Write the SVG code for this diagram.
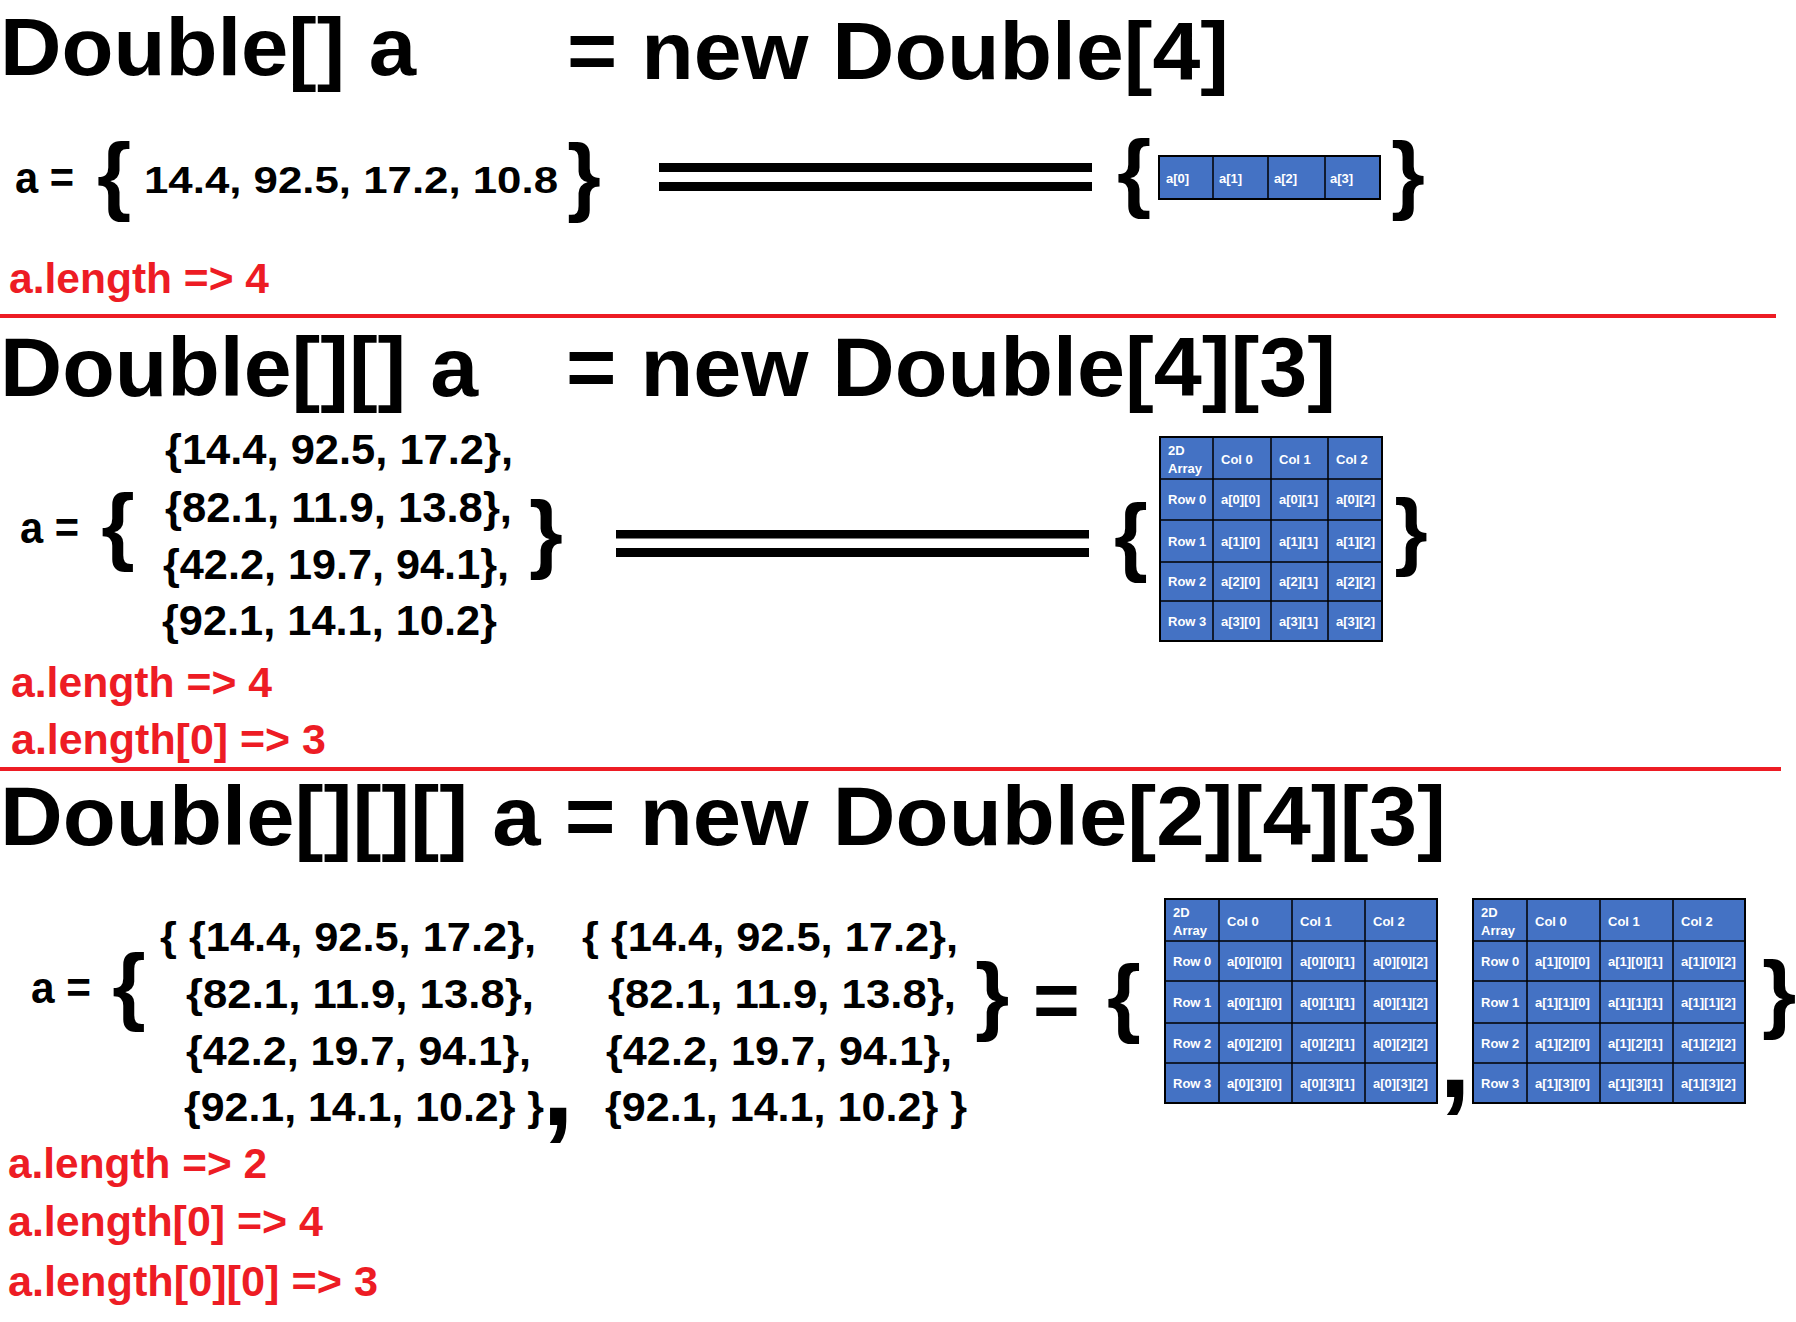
<svg xmlns="http://www.w3.org/2000/svg" width="1796" height="1322" viewBox="0 0 1796 1322">
<style>
text{font-family:"Liberation Sans",Arial,sans-serif;font-weight:bold}
.title{font-size:84px;fill:#000}
.num{fill:#000}
.red{font-size:43px;fill:#ED1C24}
.br{fill:#000;text-anchor:middle}
.tb{font-size:13px;fill:#fff}
.cell{fill:#4472C4;stroke:#000;stroke-width:2}
.div{stroke:#000;stroke-width:1.5}
</style>
<rect x="0" y="0" width="1796" height="1322" fill="#fff"/>

<!-- Section 1 -->
<g id="title1">
<text class="title" x="0" y="75" font-size="82" style="font-size:82px" textLength="416" lengthAdjust="spacingAndGlyphs">Double[] a</text>
<text class="title" x="567" y="79" style="font-size:82px" textLength="662" lengthAdjust="spacingAndGlyphs">= new Double[4]</text>
</g>
<g id="literal1">
<text class="num" x="15" y="193" font-size="44" textLength="59" lengthAdjust="spacingAndGlyphs">a =</text>
<text class="br" x="114" y="204" font-size="88">{</text>
<text class="num" x="144" y="193" font-size="37" textLength="414" lengthAdjust="spacingAndGlyphs">14.4, 92.5, 17.2, 10.8</text>
<text class="br" x="584" y="204.5" font-size="87">}</text>
</g>
<g id="array1d">
<text class="br" x="1134" y="201" font-size="88">{</text>
<rect class="cell" x="1159" y="156" width="221" height="43"/>
<line class="div" x1="1213" y1="156" x2="1213" y2="199"/>
<line class="div" x1="1268" y1="156" x2="1268" y2="199"/>
<line class="div" x1="1325" y1="156" x2="1325" y2="199"/>
<text class="tb" x="1166" y="183">a[0]</text>
<text class="tb" x="1219" y="183">a[1]</text>
<text class="tb" x="1274" y="183">a[2]</text>
<text class="tb" x="1330" y="183">a[3]</text>
<text class="br" x="1408" y="202.5" font-size="87">}</text>
</g>
<g id="length1">
<text class="red" x="9" y="293" textLength="260" lengthAdjust="spacingAndGlyphs">a.length =&gt; 4</text>
</g>
<rect x="0" y="314" width="1776" height="4" fill="#ED1C24"/>

<!-- Section 2 -->
<g id="title2">
<text class="title" x="0" y="396" textLength="478" lengthAdjust="spacingAndGlyphs">Double[][] a</text>
<text class="title" x="566" y="396" textLength="770" lengthAdjust="spacingAndGlyphs">= new Double[4][3]</text>
</g>
<g id="literal2">
<text class="num" x="20" y="543" font-size="44" textLength="59" lengthAdjust="spacingAndGlyphs">a =</text>
<text class="br" x="118" y="554" font-size="86">{</text>
<text class="num" x="165" y="464" font-size="42" textLength="348" lengthAdjust="spacingAndGlyphs">{14.4, 92.5, 17.2},</text>
<text class="num" x="165" y="522" font-size="42" textLength="347" lengthAdjust="spacingAndGlyphs">{82.1, 11.9, 13.8},</text>
<text class="num" x="163" y="579" font-size="42" textLength="346" lengthAdjust="spacingAndGlyphs">{42.2, 19.7, 94.1},</text>
<text class="num" x="162" y="635" font-size="42" textLength="335" lengthAdjust="spacingAndGlyphs">{92.1, 14.1, 10.2}</text>
<text class="br" x="546" y="561.5" font-size="87">}</text>
</g>
<g id="array2d">
<text class="br" x="1131" y="564.5" font-size="87">{</text>
<rect class="cell" x="1160" y="437" width="222" height="204"/>
<line class="div" x1="1213" y1="437" x2="1213" y2="641"/>
<line class="div" x1="1271" y1="437" x2="1271" y2="641"/>
<line class="div" x1="1328" y1="437" x2="1328" y2="641"/>
<line class="div" x1="1160" y1="479" x2="1382" y2="479"/>
<line class="div" x1="1160" y1="520" x2="1382" y2="520"/>
<line class="div" x1="1160" y1="562" x2="1382" y2="562"/>
<line class="div" x1="1160" y1="601" x2="1382" y2="601"/>
<text class="tb" x="1168" y="455">2D</text>
<text class="tb" x="1168" y="473">Array</text>
<text class="tb" x="1221" y="464">Col 0</text>
<text class="tb" x="1279" y="464">Col 1</text>
<text class="tb" x="1336" y="464">Col 2</text>
<text class="tb" x="1168" y="504">Row 0</text>
<text class="tb" x="1221" y="504">a[0][0]</text>
<text class="tb" x="1279" y="504">a[0][1]</text>
<text class="tb" x="1336" y="504">a[0][2]</text>
<text class="tb" x="1168" y="546">Row 1</text>
<text class="tb" x="1221" y="546">a[1][0]</text>
<text class="tb" x="1279" y="546">a[1][1]</text>
<text class="tb" x="1336" y="546">a[1][2]</text>
<text class="tb" x="1168" y="586">Row 2</text>
<text class="tb" x="1221" y="586">a[2][0]</text>
<text class="tb" x="1279" y="586">a[2][1]</text>
<text class="tb" x="1336" y="586">a[2][2]</text>
<text class="tb" x="1168" y="626">Row 3</text>
<text class="tb" x="1221" y="626">a[3][0]</text>
<text class="tb" x="1279" y="626">a[3][1]</text>
<text class="tb" x="1336" y="626">a[3][2]</text>
<text class="br" x="1411" y="558.7" font-size="86">}</text>
</g>
<g id="length2">
<text class="red" x="11" y="697" textLength="261" lengthAdjust="spacingAndGlyphs">a.length =&gt; 4</text>
<text class="red" x="11" y="754" textLength="315" lengthAdjust="spacingAndGlyphs">a.length[0] =&gt; 3</text>
</g>
<rect x="0" y="767" width="1781" height="4" fill="#ED1C24"/>

<!-- Section 3 -->
<g id="title3">
<text class="title" x="0" y="845" textLength="1446" lengthAdjust="spacingAndGlyphs">Double[][][] a = new Double[2][4][3]</text>
</g>
<g id="literal3">
<text class="num" x="31" y="1003" font-size="44" textLength="60" lengthAdjust="spacingAndGlyphs">a =</text>
<text class="br" x="129" y="1013.7" font-size="86">{</text>
<text class="num" x="160" y="951" font-size="40" textLength="376" lengthAdjust="spacingAndGlyphs">{ {14.4, 92.5, 17.2},</text>
<text class="num" x="186" y="1008" font-size="40" textLength="348" lengthAdjust="spacingAndGlyphs">{82.1, 11.9, 13.8},</text>
<text class="num" x="186" y="1065" font-size="40" textLength="345" lengthAdjust="spacingAndGlyphs">{42.2, 19.7, 94.1},</text>
<text class="num" x="184" y="1121" font-size="40" textLength="360" lengthAdjust="spacingAndGlyphs">{92.1, 14.1, 10.2} }</text>
<text class="num" x="542" y="1125" font-size="115">,</text>
<text class="num" x="582" y="951" font-size="40" textLength="376" lengthAdjust="spacingAndGlyphs">{ {14.4, 92.5, 17.2},</text>
<text class="num" x="608" y="1008" font-size="40" textLength="348" lengthAdjust="spacingAndGlyphs">{82.1, 11.9, 13.8},</text>
<text class="num" x="606" y="1065" font-size="40" textLength="346" lengthAdjust="spacingAndGlyphs">{42.2, 19.7, 94.1},</text>
<text class="num" x="605" y="1121" font-size="40" textLength="362" lengthAdjust="spacingAndGlyphs">{92.1, 14.1, 10.2} }</text>
<text class="br" x="992" y="1024" font-size="88">}</text>
<text class="num" x="1033" y="1027" font-size="80">=</text>
</g>
<g id="array3d-0">
<text class="br" x="1124" y="1025.5" font-size="87">{</text>
<rect class="cell" x="1165" y="899" width="272" height="204"/>
<line class="div" x1="1219" y1="899" x2="1219" y2="1103"/>
<line class="div" x1="1292" y1="899" x2="1292" y2="1103"/>
<line class="div" x1="1365" y1="899" x2="1365" y2="1103"/>
<line class="div" x1="1165" y1="941" x2="1437" y2="941"/>
<line class="div" x1="1165" y1="981" x2="1437" y2="981"/>
<line class="div" x1="1165" y1="1023" x2="1437" y2="1023"/>
<line class="div" x1="1165" y1="1063" x2="1437" y2="1063"/>
<text class="tb" x="1173" y="917">2D</text>
<text class="tb" x="1173" y="935">Array</text>
<text class="tb" x="1227" y="926">Col 0</text>
<text class="tb" x="1300" y="926">Col 1</text>
<text class="tb" x="1373" y="926">Col 2</text>
<text class="tb" x="1173" y="966">Row 0</text>
<text class="tb" x="1227" y="966">a[0][0][0]</text>
<text class="tb" x="1300" y="966">a[0][0][1]</text>
<text class="tb" x="1373" y="966">a[0][0][2]</text>
<text class="tb" x="1173" y="1007">Row 1</text>
<text class="tb" x="1227" y="1007">a[0][1][0]</text>
<text class="tb" x="1300" y="1007">a[0][1][1]</text>
<text class="tb" x="1373" y="1007">a[0][1][2]</text>
<text class="tb" x="1173" y="1048">Row 2</text>
<text class="tb" x="1227" y="1048">a[0][2][0]</text>
<text class="tb" x="1300" y="1048">a[0][2][1]</text>
<text class="tb" x="1373" y="1048">a[0][2][2]</text>
<text class="tb" x="1173" y="1088">Row 3</text>
<text class="tb" x="1227" y="1088">a[0][3][0]</text>
<text class="tb" x="1300" y="1088">a[0][3][1]</text>
<text class="tb" x="1373" y="1088">a[0][3][2]</text>
</g>
<g id="comma3d">
<text class="num" x="1439" y="1097" font-size="115">,</text>
</g>
<g id="array3d-1">
<rect class="cell" x="1473" y="899" width="272" height="204"/>
<line class="div" x1="1527" y1="899" x2="1527" y2="1103"/>
<line class="div" x1="1600" y1="899" x2="1600" y2="1103"/>
<line class="div" x1="1673" y1="899" x2="1673" y2="1103"/>
<line class="div" x1="1473" y1="941" x2="1745" y2="941"/>
<line class="div" x1="1473" y1="981" x2="1745" y2="981"/>
<line class="div" x1="1473" y1="1023" x2="1745" y2="1023"/>
<line class="div" x1="1473" y1="1063" x2="1745" y2="1063"/>
<text class="tb" x="1481" y="917">2D</text>
<text class="tb" x="1481" y="935">Array</text>
<text class="tb" x="1535" y="926">Col 0</text>
<text class="tb" x="1608" y="926">Col 1</text>
<text class="tb" x="1681" y="926">Col 2</text>
<text class="tb" x="1481" y="966">Row 0</text>
<text class="tb" x="1535" y="966">a[1][0][0]</text>
<text class="tb" x="1608" y="966">a[1][0][1]</text>
<text class="tb" x="1681" y="966">a[1][0][2]</text>
<text class="tb" x="1481" y="1007">Row 1</text>
<text class="tb" x="1535" y="1007">a[1][1][0]</text>
<text class="tb" x="1608" y="1007">a[1][1][1]</text>
<text class="tb" x="1681" y="1007">a[1][1][2]</text>
<text class="tb" x="1481" y="1048">Row 2</text>
<text class="tb" x="1535" y="1048">a[1][2][0]</text>
<text class="tb" x="1608" y="1048">a[1][2][1]</text>
<text class="tb" x="1681" y="1048">a[1][2][2]</text>
<text class="tb" x="1481" y="1088">Row 3</text>
<text class="tb" x="1535" y="1088">a[1][3][0]</text>
<text class="tb" x="1608" y="1088">a[1][3][1]</text>
<text class="tb" x="1681" y="1088">a[1][3][2]</text>
<text class="br" x="1779" y="1022" font-size="88">}</text>
</g>
<g id="length3">
<text class="red" x="8" y="1178" textLength="259" lengthAdjust="spacingAndGlyphs">a.length =&gt; 2</text>
<text class="red" x="8" y="1236" textLength="315" lengthAdjust="spacingAndGlyphs">a.length[0] =&gt; 4</text>
<text class="red" x="8" y="1296" textLength="370" lengthAdjust="spacingAndGlyphs">a.length[0][0] =&gt; 3</text>
</g>

<g id="connectors">
<rect x="659" y="163" width="433" height="9" fill="#000"/>
<rect x="659" y="182" width="433" height="9" fill="#000"/>
<rect x="616" y="530" width="473" height="8.5" fill="#000"/>
<rect x="616" y="548" width="473" height="9" fill="#000"/>
</g>
</svg>
